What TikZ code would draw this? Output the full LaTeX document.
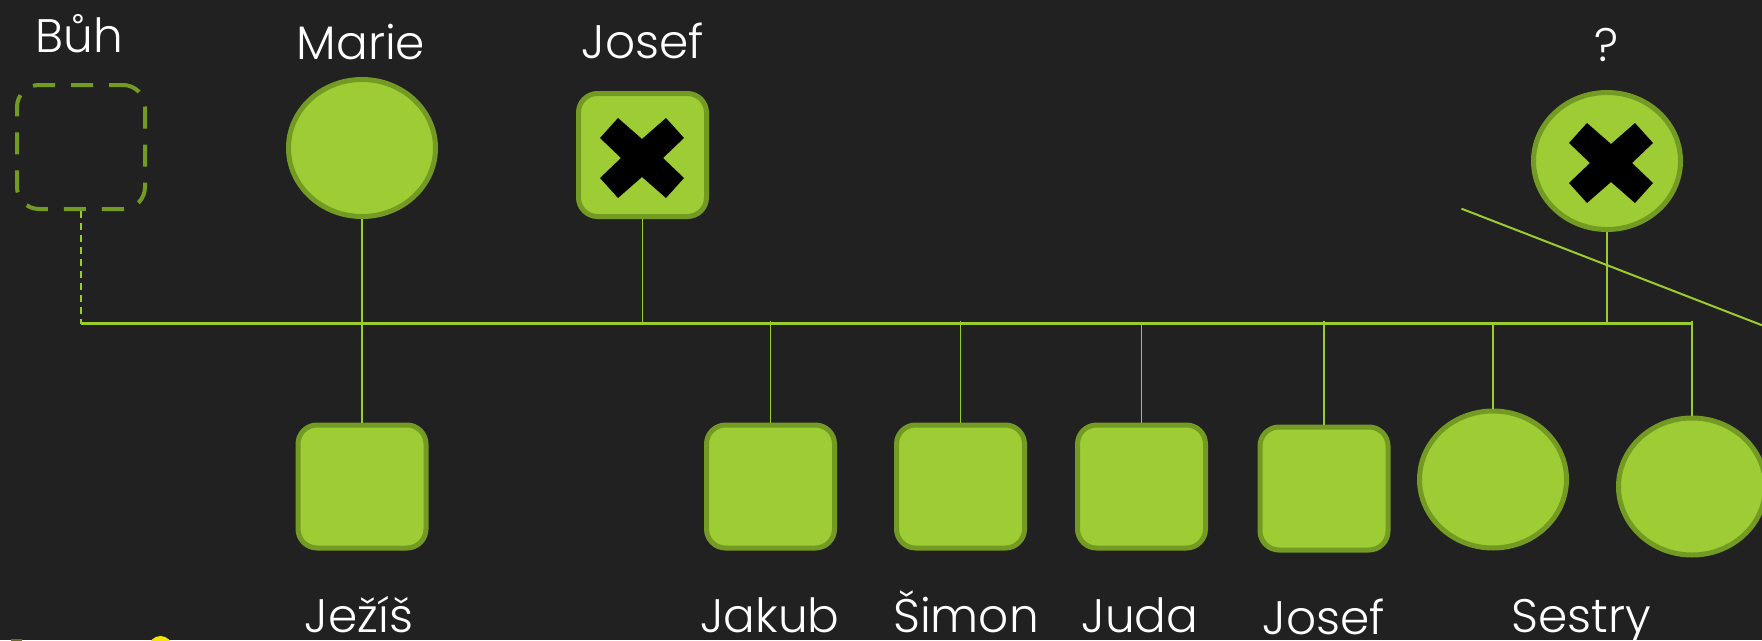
\documentclass[tikz,border=0pt]{standalone}
\usepackage{fontspec}
\setmainfont{Poppins Light}
\usetikzlibrary{shapes.geometric}
\definecolor{bg}{HTML}{212121}
\definecolor{gfill}{HTML}{9ECC34}
\definecolor{gedge}{HTML}{739A22}
\definecolor{conn}{HTML}{9CCB2E}
\definecolor{olivebit}{HTML}{6E6A2A}
\definecolor{yellowbit}{HTML}{F2E600}
\tikzset{
  malebox/.style={draw=gedge, fill=gfill, line width=5pt, rounded corners=19pt,
    minimum width=128pt, minimum height=123pt, inner sep=0pt},
  femaleell/.style={ellipse, draw=gedge, fill=gfill, line width=5pt,
    minimum width=147pt, minimum height=137pt, inner sep=0pt},
  godbox/.style={draw=gedge, line width=4pt, rounded corners=22pt,
    dash pattern=on 22pt off 16pt, dash phase=8pt,
    minimum width=128pt, minimum height=124pt, inner sep=0pt},
  lbl/.style={text=white, anchor=base, inner sep=0pt, font=\fontsize{47}{56}\selectfont},
  bar/.style={draw=conn, line width=2.3pt},
  vline/.style={draw=conn, line width=1.7pt},
  xmk/.pic={\fill[black] (-42,-20) -- (-24,-40) -- (0,-19) -- (24,-40) -- (42,-20) -- (21,0)
     -- (42,20) -- (24,40) -- (0,19) -- (-24,40) -- (-42,20) -- (-21,0) -- cycle;}
}
\begin{document}
\begin{tikzpicture}[x=1pt,y=-1pt]
\fill[bg] (0,0) rectangle (1762,640);
\useasboundingbox (0,0) rectangle (1762,640);
\clip (0,0) rectangle (1762,640);

% parents
\node[godbox] (buh) at (81,147) {};
\node[femaleell] (marie) at (362,148) {};
\node[malebox] (josefP) at (642.5,155) {};
\pic at (642,158) {xmk};
\node[femaleell] (unk) at (1607,161) {};
\pic at (1611,163) {xmk};

% children
\node[malebox] (jezis) at (362,486.5) {};
\node[malebox] (jakub) at (770.5,486.5) {};
\node[malebox] (simon) at (960.5,486.5) {};
\node[malebox] (juda) at (1141.5,486.5) {};
\node[malebox] (josefS) at (1324,488.5) {};
\node[femaleell] (sestra1) at (1493,479.5) {};
\node[femaleell] (sestra2) at (1692,486.5) {};

% labels
\node[lbl] (tbuh) at (79,52) {Bůh};
\node[lbl] (tmarie) at (361,59) {Marie};
\node[lbl] (tjosefP) at (643,58) {Josef};
\node[lbl] (tunk) at (1607,61) {?};
\node[lbl] (tjezis) at (359,632) {Ježíš};
\node[lbl] (tjakub) at (770,632) {Jakub};
\node[lbl] (tsimon) at (966,632) {Šimon};
\node[lbl] (tjuda) at (1140,632) {Juda};
\node[lbl] (tjosefS) at (1324,634) {Josef};
\node[lbl] (tsestry) at (1581,632) {Sestry};

% family bar
\coordinate (barL) at (81,323.5);
\coordinate (barR) at (1691,323.5);
\draw[bar] (barL) -- (barR);

% connectors
\draw[draw=conn, line width=1.7pt, dash pattern=on 7pt off 5pt] (buh.south) -- (barL);
\draw[vline] (marie.south) -- (jezis.north);
\draw[vline] (josefP.south) -- (josefP.south |- barL);
\draw[vline] (unk.south) -- ([yshift=2pt]unk.south |- barL);
\draw[vline] ([yshift=3pt]jakub.north |- barL) -- (jakub.north);
\draw[vline] ([yshift=3pt]simon.north |- barL) -- (simon.north);
\draw[vline] (juda.north |- barL) -- (juda.north);
\draw[vline] ([yshift=3pt]josefS.north |- barL) -- (josefS.north);
\draw[vline] (sestra1.north |- barL) -- (sestra1.north);
\draw[vline] ([yshift=3pt]sestra2.north |- barL) -- (sestra2.north);

% diagonal stroke
\coordinate (diagA) at (1461.5,208.7);
\coordinate (diagB) at (1800,340);
\draw[draw=conn, line width=2pt] (diagA) -- (diagB);

% cut-off bits at the bottom edge
\fill[olivebit] (11,639) rectangle (22,641);
\fill[yellowbit] (160.5,648) circle (12);
\end{tikzpicture}
\end{document}
